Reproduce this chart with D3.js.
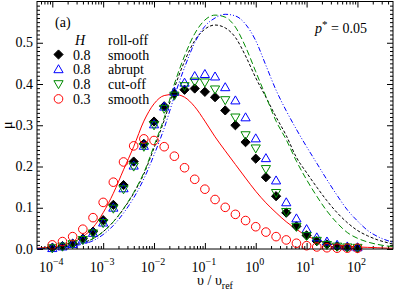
<!DOCTYPE html>
<html>
<head>
<meta charset="utf-8">
<script src="https://cdn.jsdelivr.net/npm/d3@7"></script>
<style>
  body { margin: 0; background: #fff; }
  svg text { font-family: "Liberation Serif", "DejaVu Serif", serif; }
</style>
</head>
<body>
<div id="chart"></div>
<script>
// sampling grid of the symbols (log10 of v / v_ref)
const pointExp = [-4.0, -3.8, -3.6, -3.4, -3.2, -3.0, -2.8, -2.6, -2.4, -2.2, -2.0, -1.8, -1.6, -1.4, -1.2,
  -1.0, -0.8, -0.6, -0.4, -0.2, 0.0, 0.2, 0.4, 0.6, 0.8, 1.0, 1.2, 1.4, 1.6, 1.8, 2.0];

// symbols: H = 0.8 smooth / abrupt / cut-off, H = 0.3 smooth
const smooth08 = [0.003, 0.007, 0.013, 0.025, 0.042, 0.070, 0.107, 0.155, 0.212, 0.255, 0.309, 0.346, 0.376, 0.386, 0.389,
  0.381, 0.368, 0.336, 0.300, 0.259, 0.219, 0.174, 0.128, 0.088, 0.055, 0.033, 0.019, 0.011, 0.006, 0.004, 0.002];
const abrupt08 = [0.002, 0.006, 0.012, 0.023, 0.039, 0.064, 0.100, 0.147, 0.202, 0.250, 0.302, 0.345, 0.381, 0.403, 0.419,
  0.424, 0.418, 0.392, 0.360, 0.319, 0.268, 0.220, 0.166, 0.113, 0.074, 0.048, 0.028, 0.018, 0.010, 0.006, 0.004];
const cutoff08 = [0.002, 0.006, 0.012, 0.022, 0.038, 0.063, 0.098, 0.145, 0.200, 0.248, 0.300, 0.340, 0.372, 0.395, 0.406,
  0.404, 0.387, 0.361, 0.319, 0.276, 0.244, 0.194, 0.136, 0.090, 0.054, 0.032, 0.020, 0.010, 0.006, 0.004, 0.003];
const smooth03 = [0.010, 0.018, 0.030, 0.048, 0.076, 0.113, 0.162, 0.211, 0.250, 0.267, 0.263, 0.248, 0.225, 0.197, 0.169,
  0.145, 0.120, 0.101, 0.084, 0.069, 0.054, 0.041, 0.030, 0.022, 0.014, 0.008, 0.005, 0.003, 0.002, 0.002, 0.002];

// sampling grid of the lines
const curveExp = [-4.3, -4.0, -3.8, -3.6, -3.4, -3.2, -3.0, -2.8, -2.6, -2.4, -2.2, -2.0, -1.8, -1.6, -1.4, -1.2,
  -1.0, -0.8, -0.6, -0.4, -0.2, 0.0, 0.2, 0.4, 0.6, 0.8, 1.0, 1.2, 1.4, 1.6, 1.8, 2.0, 2.2, 2.4, 2.6, 2.7];

const lineRed = [0.002, 0.005, 0.009, 0.016, 0.030, 0.052, 0.088, 0.135, 0.192, 0.248, 0.310, 0.352, 0.372, 0.375, 0.368, 0.345,
  0.310, 0.272, 0.238, 0.205, 0.172, 0.140, 0.112, 0.088, 0.066, 0.048, 0.032, 0.022, 0.014, 0.010, 0.007, 0.005, 0.004, 0.003, 0.002, 0.002];
const lineBlack = [0.001, 0.003, 0.005, 0.009, 0.015, 0.025, 0.042, 0.066, 0.097, 0.135, 0.182, 0.245, 0.312, 0.390, 0.455, 0.505,
  0.533, 0.543, 0.536, 0.513, 0.468, 0.415, 0.368, 0.320, 0.275, 0.222, 0.185, 0.150, 0.117, 0.088, 0.064, 0.045, 0.032, 0.022, 0.015, 0.012];
const lineGreen = [0.001, 0.003, 0.005, 0.009, 0.015, 0.025, 0.042, 0.066, 0.098, 0.137, 0.185, 0.250, 0.318, 0.400, 0.468, 0.522,
  0.555, 0.567, 0.562, 0.538, 0.490, 0.430, 0.370, 0.310, 0.265, 0.213, 0.168, 0.128, 0.092, 0.063, 0.040, 0.026, 0.017, 0.011, 0.007, 0.006];
const lineBlue = [0.001, 0.002, 0.004, 0.007, 0.012, 0.020, 0.035, 0.057, 0.087, 0.124, 0.170, 0.228, 0.293, 0.370, 0.440, 0.500,
  0.540, 0.560, 0.569, 0.565, 0.545, 0.505, 0.445, 0.385, 0.335, 0.290, 0.248, 0.208, 0.168, 0.130, 0.095, 0.068, 0.045, 0.030, 0.020, 0.016];

const xMajor = [-4, -3, -2, -1, 0, 1, 2];
const yMajor = [0, 0.1, 0.2, 0.3, 0.4, 0.5];

const legendRows = [
  { h: "0.8", label: "smooth", sym: "diamond", color: "#000" },
  { h: "0.8", label: "abrupt", sym: "up", color: "#0000ff" },
  { h: "0.8", label: "cut-off", sym: "down", color: "#008b00" },
  { h: "0.3", label: "smooth", sym: "circle", color: "#ff0000" }
];

const W = 395, H = 291;
const plotLeft = 37, plotRight = 393, plotTop = 1.5, plotBottom = 249;

const svg = d3.select("#chart").append("svg")
  .attr("width", W).attr("height", H);

const x = d3.scaleLog().domain([5e-5, 500]).range([plotLeft, plotRight]);
const y = d3.scaleLinear().domain([0, 0.6]).range([plotBottom, plotTop]);

// minor tick values
const xMinor = [];
for (let e = -5; e <= 2; e++) {
  for (let m = 2; m <= 9; m++) {
    const v = m * Math.pow(10, e);
    if (v > 5e-5 && v < 500) xMinor.push(v);
  }
}
const yMinor = d3.range(1, 60).map(i => i / 100).filter(v => Math.round(v * 100) % 10 !== 0);

function drawTicks(axisFn, scale, values, size, transform) {
  const g = svg.append("g")
    .attr("transform", transform)
    .call(axisFn(scale).tickValues(values).tickSize(-size).tickSizeOuter(0).tickFormat(""));
  g.select(".domain").remove();
  g.selectAll(".tick line").attr("stroke", "#000").attr("stroke-width", 1);
  g.attr("font-family", null);
  return g;
}

const xMajVals = xMajor.map(e => Math.pow(10, e));
drawTicks(d3.axisBottom, x, xMajVals, 6, `translate(0,${plotBottom})`);
drawTicks(d3.axisBottom, x, xMinor, 3, `translate(0,${plotBottom})`);
drawTicks(d3.axisTop, x, xMajVals, 6, `translate(0,${plotTop})`);
drawTicks(d3.axisTop, x, xMinor, 3, `translate(0,${plotTop})`);
drawTicks(d3.axisLeft, y, yMajor, 6, `translate(${plotLeft},0)`);
drawTicks(d3.axisLeft, y, yMinor, 3, `translate(${plotLeft},0)`);
drawTicks(d3.axisRight, y, yMajor, 6, `translate(${plotRight},0)`);
drawTicks(d3.axisRight, y, yMinor, 3, `translate(${plotRight},0)`);

// tick labels
xMajor.forEach(e => {
  const t = svg.append("text")
    .attr("x", x(Math.pow(10, e)) - 1)
    .attr("y", 272)
    .attr("text-anchor", "middle")
    .attr("font-size", 14);
  t.append("tspan").text("10");
  t.append("tspan").attr("font-size", 10).attr("dy", -7).text(e < 0 ? "\u2212" + (-e) : String(e));
});

svg.selectAll(".ylab").data(yMajor).enter().append("text")
  .attr("x", 33)
  .attr("y", d => y(d) + 4.5)
  .attr("text-anchor", "end")
  .attr("font-size", 14)
  .text(d3.format(".1f"));

// axis titles
const xt = svg.append("text")
  .attr("x", (plotLeft + plotRight) / 2)
  .attr("y", 285)
  .attr("text-anchor", "middle")
  .attr("font-size", 14);
xt.append("tspan").text("\u03c5 / \u03c5");
xt.append("tspan").attr("font-size", 10).attr("dy", 4).text("ref");

svg.append("text")
  .attr("transform", `translate(12,${(plotTop + plotBottom) / 2}) rotate(-90)`)
  .attr("text-anchor", "middle")
  .attr("font-size", 15)
  .text("\u03bc");

// lines
const line = d3.line()
  .x(d => x(Math.pow(10, d[0])))
  .y(d => y(d[1]))
  .curve(d3.curveMonotoneX);

const plot = svg.append("g");
plot.append("defs").append("clipPath").attr("id", "clip")
  .append("rect").attr("x", plotLeft).attr("y", plotTop)
  .attr("width", plotRight - plotLeft).attr("height", plotBottom - plotTop);
const lines = plot.append("g").attr("clip-path", "url(#clip)");

const curves = [
  { vals: lineRed, color: "#ff0000", dash: null },
  { vals: lineBlack, color: "#000", dash: "3,2" },
  { vals: lineGreen, color: "#008b00", dash: "6,3" },
  { vals: lineBlue, color: "#0000ff", dash: "5,2,1,2,1,2" }
];
curves.forEach(c => {
  lines.append("path")
    .attr("d", line(curveExp.map((e, i) => [e, c.vals[i]])))
    .attr("fill", "none")
    .attr("stroke", c.color)
    .attr("stroke-width", 1)
    .attr("stroke-dasharray", c.dash);
});

// symbol shapes
function symbolPath(kind) {
  if (kind === "diamond") return "M0,-4.6L4.6,0L0,4.6L-4.6,0Z";
  if (kind === "up") return "M0,-4.6L4.6,3.4L-4.6,3.4Z";
  if (kind === "down") return "M0,4.6L4.6,-3.4L-4.6,-3.4Z";
  return null;
}

function drawSymbol(g, kind, color, cx, cy) {
  if (kind === "circle") {
    g.append("circle").attr("cx", cx).attr("cy", cy).attr("r", 4.3)
      .attr("fill", "none").attr("stroke", color).attr("stroke-width", 1);
  } else {
    g.append("path").attr("d", symbolPath(kind))
      .attr("transform", `translate(${cx},${cy})`)
      .attr("fill", kind === "diamond" ? color : "none")
      .attr("stroke", color).attr("stroke-width", 1);
  }
}

const seriesList = [
  { vals: smooth08, sym: "diamond", color: "#000" },
  { vals: abrupt08, sym: "up", color: "#0000ff" },
  { vals: cutoff08, sym: "down", color: "#008b00" },
  { vals: smooth03, sym: "circle", color: "#ff0000" }
];
const marks = svg.append("g");
seriesList.forEach(s => {
  pointExp.forEach((e, i) => {
    drawSymbol(marks, s.sym, s.color, x(Math.pow(10, e)), y(s.vals[i]));
  });
});

// frame
svg.append("rect")
  .attr("x", plotLeft).attr("y", plotTop)
  .attr("width", plotRight - plotLeft).attr("height", plotBottom - plotTop)
  .attr("fill", "none").attr("stroke", "#000").attr("stroke-width", 1);

// legend
svg.append("text").attr("x", 55).attr("y", 27).attr("font-size", 14).text("(a)");
svg.append("text").attr("x", 75).attr("y", 45).attr("font-size", 14).attr("font-style", "italic").text("H");
svg.append("text").attr("x", 108).attr("y", 45).attr("font-size", 14).text("roll-off");
legendRows.forEach((r, i) => {
  const cy = 54.5 + i * 14.8;
  drawSymbol(svg, r.sym, r.color, 58.5, cy);
  svg.append("text").attr("x", 73).attr("y", cy + 5).attr("font-size", 14).text(r.h);
  svg.append("text").attr("x", 108).attr("y", cy + 5).attr("font-size", 14).text(r.label);
});

const pt = svg.append("text").attr("x", 315).attr("y", 33).attr("font-size", 14);
pt.append("tspan").attr("font-style", "italic").text("p");
pt.append("tspan").attr("dy", -5).attr("font-size", 11).text("*");
pt.append("tspan").attr("dy", 5).text(" = 0.05");
</script>
</body>
</html>
